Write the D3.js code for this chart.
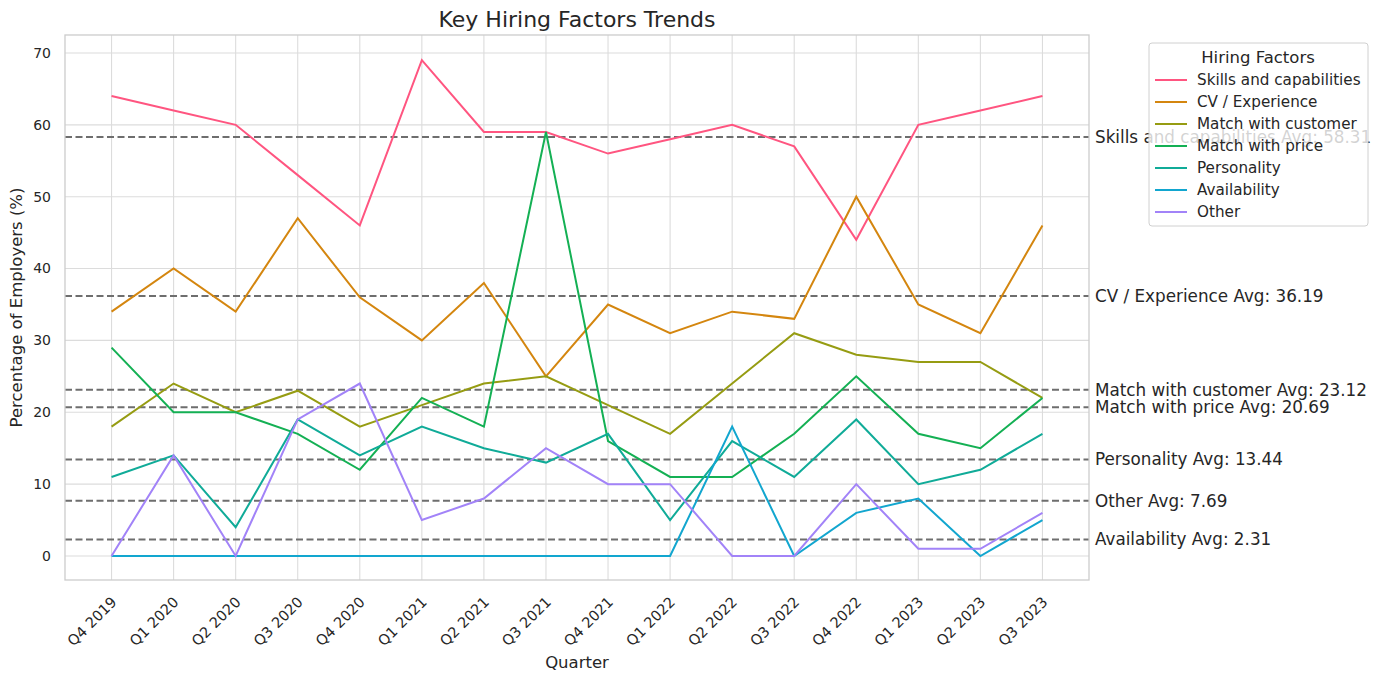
<!DOCTYPE html>
<head>
  <meta charset="utf-8" />
  <script src="https://d3js.org/d3.v7.min.js"></script>
  <style>
    body {
      margin: 0;
      background: white;
      font-family: "DejaVu Sans", sans-serif;
    }
  </style>
</head>

<body>
  <script>
    var width = 1384,
      height = 687;

    // Donnees
    const quarters = ["Q4 2019", "Q1 2020", "Q2 2020", "Q3 2020", "Q4 2020", "Q1 2021", "Q2 2021", "Q3 2021",
      "Q4 2021", "Q1 2022", "Q2 2022", "Q3 2022", "Q4 2022", "Q1 2023", "Q2 2023", "Q3 2023"];
    const factors = ["Skills and capabilities", "CV / Experience", "Match with customer", "Match with price",
      "Personality", "Availability", "Other"];
    const skills = [64, 62, 60, 53, 46, 69, 59, 59, 56, 58, 60, 57, 44, 60, 62, 64];
    const cvExperience = [34, 40, 34, 47, 36, 30, 38, 25, 35, 31, 34, 33, 50, 35, 31, 46];
    const matchCustomer = [18, 24, 20, 23, 18, 21, 24, 25, 21, 17, 24, 31, 28, 27, 27, 22];
    const matchPrice = [29, 20, 20, 17, 12, 22, 18, 59, 16, 11, 11, 17, 25, 17, 15, 22];
    const personality = [11, 14, 4, 19, 14, 18, 15, 13, 17, 5, 16, 11, 19, 10, 12, 17];
    const availability = [0, 0, 0, 0, 0, 0, 0, 0, 0, 0, 18, 0, 6, 8, 0, 5];
    const other = [0, 14, 0, 19, 24, 5, 8, 15, 10, 10, 0, 0, 10, 1, 1, 6];
    const yTicks = [0, 10, 20, 30, 40, 50, 60, 70];
    const colors = ["#ff5580", "#d4860f", "#969c12", "#14b054", "#10ab98", "#12a6cf", "#a283f8"];

    const series = [skills, cvExperience, matchCustomer, matchPrice, personality, availability, other];

    // Ordre des etiquettes de moyenne (comme sur l'image)
    const avgOrder = [0, 1, 2, 3, 4, 6, 5];

    // attention : "top" est reserve (window.top)
    var pL = 65, pR = 1089, pT = 35, pB = 580;

    // arrondi "au pair" comme python (23.125 -> 23.12)
    function fmt2(v) {
      var s = v * 100, f = Math.floor(s), diff = s - f;
      var r = diff > 0.5 ? f + 1 : diff < 0.5 ? f : (f % 2 === 0 ? f : f + 1);
      return (r / 100).toFixed(2);
    }

    var svg = d3.select("body").append("svg")
      .attr("width", width)
      .attr("height", height);

    var x = d3.scaleLinear().domain([-0.75, quarters.length - 0.25]).range([pL, pR]);
    var y = d3.scaleLinear().domain([-3.34, 72.5]).range([pB, pT]);

    // grille
    var g = svg.append("g");
    g.selectAll(".vgrid").data(quarters).join("line")
      .attr("x1", (d, i) => x(i)).attr("x2", (d, i) => x(i))
      .attr("y1", pT).attr("y2", pB)
      .attr("stroke", "#dcdcdc").attr("stroke-width", 1.1);
    g.selectAll(".hgrid").data(yTicks).join("line")
      .attr("x1", pL).attr("x2", pR)
      .attr("y1", d => y(d)).attr("y2", d => y(d))
      .attr("stroke", "#dcdcdc").attr("stroke-width", 1.1);

    // lignes de moyenne
    var avgs = series.map(s => d3.mean(s));
    g.selectAll(".avg").data(avgs).join("line")
      .attr("x1", pL).attr("x2", pR)
      .attr("y1", d => y(d)).attr("y2", d => y(d))
      .attr("stroke", "#6e6e6e").attr("stroke-width", 2)
      .attr("stroke-dasharray", "7,3.5");

    // courbes
    var line = d3.line().x((d, i) => x(i)).y(d => y(d));
    g.selectAll(".serie").data(series).join("path")
      .attr("d", line)
      .attr("fill", "none")
      .attr("stroke", (d, i) => colors[i])
      .attr("stroke-width", 2);

    // cadre
    svg.append("rect")
      .attr("x", pL).attr("y", pT)
      .attr("width", pR - pL).attr("height", pB - pT)
      .attr("fill", "none").attr("stroke", "#cccccc").attr("stroke-width", 1.3);

    // axes
    svg.selectAll(".ytick").data(yTicks).join("text")
      .attr("x", pL - 14).attr("y", d => y(d))
      .attr("dy", "0.35em").attr("text-anchor", "end")
      .attr("font-size", 14).attr("fill", "#262626")
      .text(d => d);

    svg.selectAll(".xtick").data(quarters).join("text")
      .attr("text-anchor", "end")
      .attr("font-size", 14.5).attr("fill", "#262626")
      .attr("transform", (d, i) => `translate(${x(i) + 6},${pB + 23}) rotate(-45)`)
      .text(d => d);

    svg.append("text")
      .attr("x", (pL + pR) / 2).attr("y", 668)
      .attr("text-anchor", "middle").attr("font-size", 16.5).attr("fill", "#262626")
      .text("Quarter");

    svg.append("text")
      .attr("transform", `translate(22,${(pT + pB) / 2}) rotate(-90)`)
      .attr("text-anchor", "middle").attr("font-size", 16.5).attr("fill", "#262626")
      .text("Percentage of Employers (%)");

    svg.append("text")
      .attr("x", (pL + pR) / 2).attr("y", 27)
      .attr("text-anchor", "middle").attr("font-size", 22).attr("fill", "#262626")
      .text("Key Hiring Factors Trends");

    // etiquettes des moyennes
    svg.selectAll(".avglabel").data(avgOrder).join("text")
      .attr("x", pR + 6).attr("y", i => y(avgs[i]))
      .attr("dy", "0.35em")
      .attr("font-size", 16.8).attr("fill", "#262626")
      .text(i => `${factors[i]} Avg: ${fmt2(avgs[i])}`);

    // legende
    var lg = svg.append("g").attr("transform", "translate(1149,43)");
    lg.append("rect")
      .attr("width", 219).attr("height", 183).attr("rx", 3)
      .attr("fill", "white").attr("fill-opacity", 0.8)
      .attr("stroke", "#d0d0d0");
    lg.append("text")
      .attr("x", 109).attr("y", 20).attr("text-anchor", "middle")
      .attr("font-size", 16.5).attr("fill", "#262626")
      .text("Hiring Factors");
    var items = lg.selectAll(".item").data(factors).join("g")
      .attr("transform", (d, i) => `translate(0,${37 + i * 22})`);
    items.append("line")
      .attr("x1", 6).attr("x2", 38)
      .attr("stroke", (d, i) => colors[i]).attr("stroke-width", 2);
    items.append("text")
      .attr("x", 48).attr("dy", "0.35em")
      .attr("font-size", 15.2).attr("fill", "#262626")
      .text(d => d);
  </script>
</body>
